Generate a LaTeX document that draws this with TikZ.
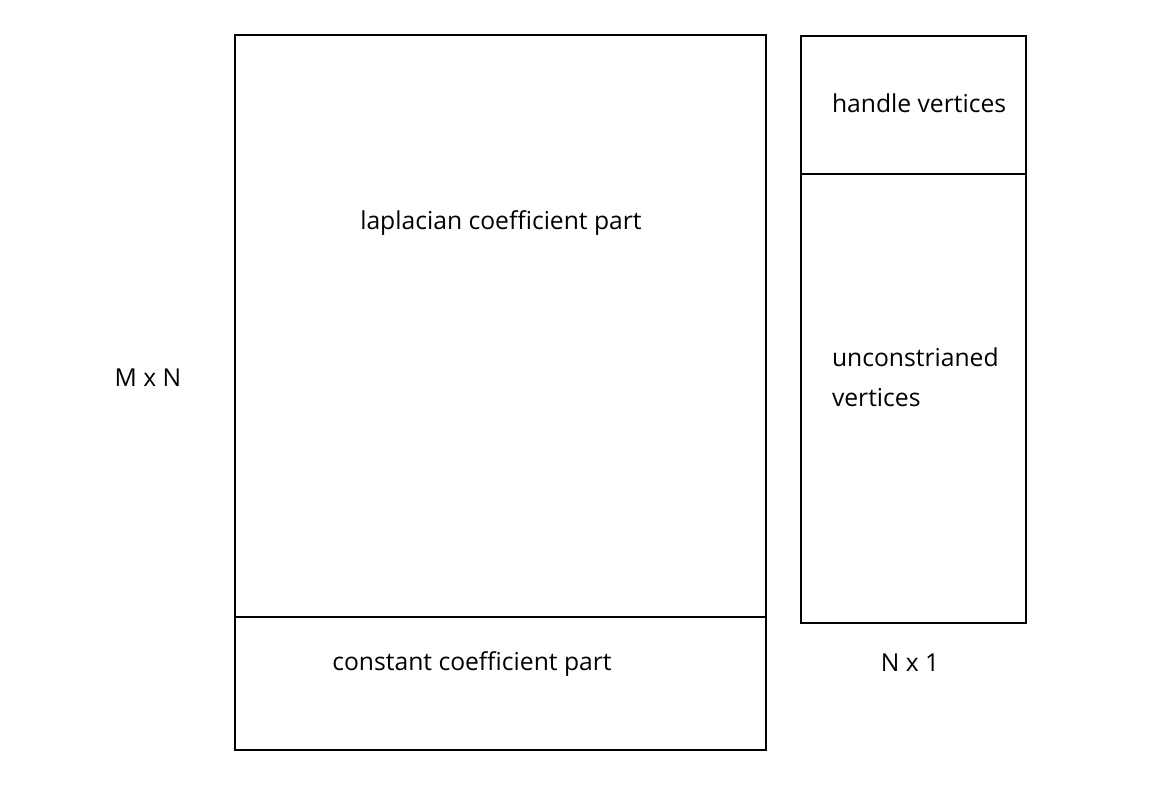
\documentclass[tikz,border=0pt]{standalone}
\usepackage{fontspec}
\setmainfont{Open Sans}

\begin{document}
\begin{tikzpicture}[x=0.75pt,y=-0.75pt,line width=1.5pt]
    \useasboundingbox (0,0) rectangle (1158,787);
    \tikzset{lbl/.style={font=\fontsize{18.5}{30}\selectfont,inner sep=0pt}}

    % M x N matrix
    \draw (235,35) rectangle (766,750);
    \draw (235,617) -- (766,617);
    \node[lbl] (lapl) at (501,223) {laplacian coefficient part};
    \node[lbl] (const) at (472,664) {constant coefficient part};
    \node[lbl] (mn) at (148,378) {M x N};

    % N x 1 vector
    \draw (801,36) rectangle (1026,623);
    \draw (801,174) -- (1026,174);
    \node[lbl,anchor=west] (handle) at (831,103) {handle vertices};
    \node[lbl,anchor=north west,align=left] (free) at (831,347) {unconstrianed\\vertices};
    \node[lbl] (n1) at (910,663) {N x 1};

\end{tikzpicture}
\end{document}
